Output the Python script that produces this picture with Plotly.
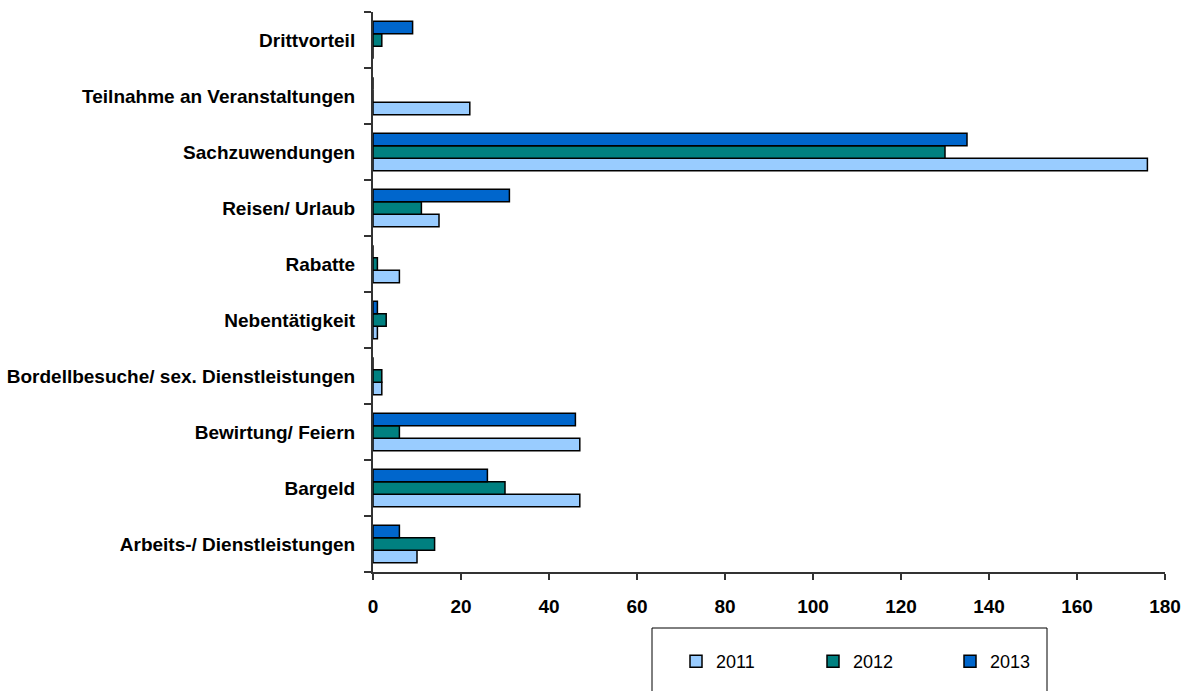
import plotly.graph_objects as go

# Categories from bottom to top of the chart
categories = [
    "Arbeits-/ Dienstleistungen",
    "Bargeld",
    "Bewirtung/ Feiern",
    "Bordellbesuche/ sex. Dienstleistungen",
    "Nebentätigkeit",
    "Rabatte",
    "Reisen/ Urlaub",
    "Sachzuwendungen",
    "Teilnahme an Veranstaltungen",
    "Drittvorteil",
]

values_2011 = [10, 47, 47, 2, 1, 6, 15, 176, 22, 0]
values_2012 = [14, 30, 6, 2, 3, 1, 11, 130, 0, 2]
values_2013 = [6, 26, 46, 0, 1, 0, 31, 135, 0, 9]

x_ticks = [0, 20, 40, 60, 80, 100, 120, 140, 160, 180]

series = [
    ("2011", values_2011, "#99CCFF"),
    ("2012", values_2012, "#008080"),
    ("2013", values_2013, "#0066CC"),
]

label_font = "Liberation Sans, Arial, sans-serif"

W, H = 1190, 691
ML, MR, MT, MB = 373, 25, 12, 119
PW, PH = W - ML - MR, H - MT - MB

fig = go.Figure()
for name, vals, color in series:
    fig.add_trace(go.Bar(
        y=categories,
        x=vals,
        name=name,
        orientation="h",
        marker=dict(color=color, line=dict(color="#000000", width=1.5)),
    ))

fig.update_layout(
    width=W,
    height=H,
    margin=dict(l=ML, r=MR, t=MT, b=MB, autoexpand=False),
    paper_bgcolor="white",
    plot_bgcolor="white",
    barmode="group",
    bargap=0.33,
    bargroupgap=0,
    showlegend=True,
    legend=dict(
        orientation="h",
        x=(676 - ML) / PW, xanchor="left",
        y=-(643 - (H - MB)) / PH, yanchor="top",
        font=dict(family=label_font, size=18, color="#000000"),
        entrywidth=92,
        entrywidthmode="pixels",
        itemwidth=30,
        bgcolor="rgba(0,0,0,0)",
        traceorder="normal",
    ),
    xaxis=dict(
        range=[0, 180],
        tickmode="array",
        tickvals=x_ticks,
        ticktext=[str(t) for t in x_ticks],
        showgrid=False,
        zeroline=False,
        showline=True,
        linecolor="#333333",
        linewidth=2,
        ticks="outside",
        ticklen=6,
        tickwidth=2,
        tickcolor="#333333",
        tickfont=dict(family=label_font, size=19, color="#000000", weight="bold"),
        ticklabelstandoff=10,
    ),
    yaxis=dict(
        type="category",
        categoryorder="array",
        categoryarray=categories,
        range=[-0.5, 9.5],
        showgrid=False,
        showline=True,
        linecolor="#333333",
        linewidth=2,
        ticks="outside",
        tickson="boundaries",
        ticklen=7,
        tickwidth=2,
        tickcolor="#333333",
        tickfont=dict(family=label_font, size=19, color="#000000", weight="bold"),
        ticklabelstandoff=12,
    ),
    shapes=[
        dict(
            type="rect",
            xref="paper", yref="paper",
            x0=(652 - ML) / PW,
            x1=(1047 - ML) / PW,
            y0=-0.3,
            y1=-(628 - (H - MB)) / PH,
            line=dict(color="#000000", width=1),
            fillcolor="rgba(0,0,0,0)",
            layer="above",
        )
    ],
)

fig.write_html("out.html")
